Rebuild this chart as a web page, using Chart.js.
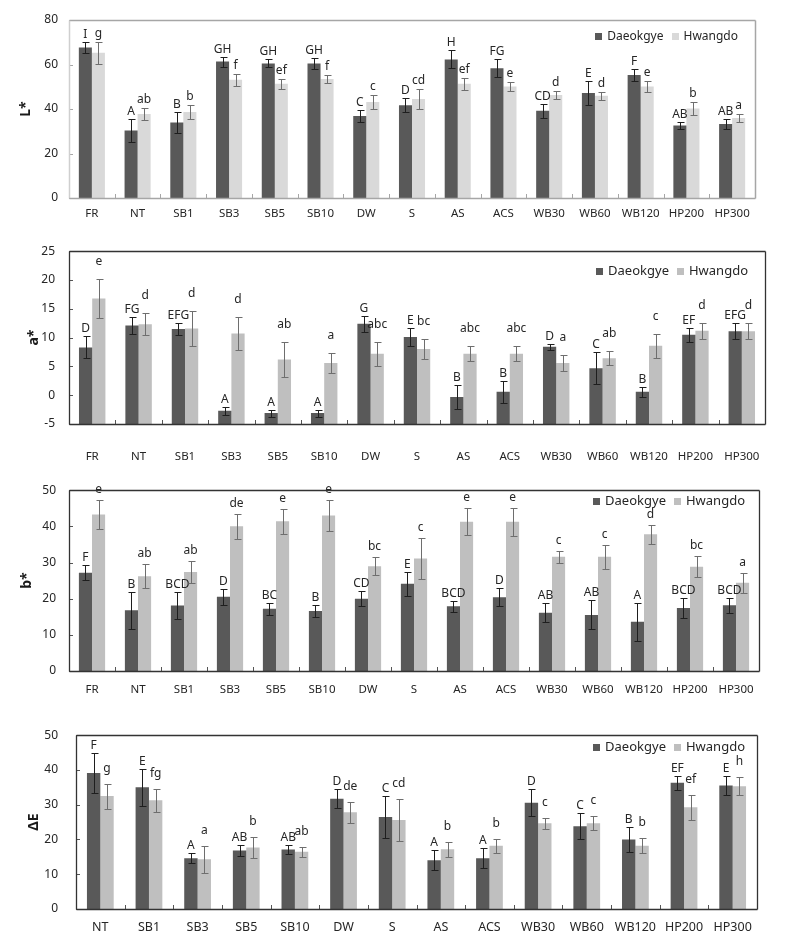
<!DOCTYPE html>
<html><head><meta charset="utf-8">
<script src="https://cdn.jsdelivr.net/npm/chart.js@4.4.1/dist/chart.umd.min.js"></script>
<style>
html,body{margin:0;padding:0;background:#fff;width:789px;height:939px;overflow:hidden}
.p{position:absolute;left:0;width:789px}
canvas{display:block}
</style></head><body>
<div class="p" style="top:0;height:230px"><canvas id="c1" width="789" height="230"></canvas></div>
<div class="p" style="top:230px;height:240px"><canvas id="c2" width="789" height="240"></canvas></div>
<div class="p" style="top:470px;height:240px"><canvas id="c3" width="789" height="240"></canvas></div>
<div class="p" style="top:710px;height:229px"><canvas id="c4" width="789" height="229"></canvas></div>
<script>
// ---------- data ----------
const categories = ['FR','NT','SB1','SB3','SB5','SB10','DW','S','AS','ACS','WB30','WB60','WB120','HP200','HP300'];
const categoriesDeltaE = ['NT','SB1','SB3','SB5','SB10','DW','S','AS','ACS','WB30','WB60','WB120','HP200','HP300'];
const seriesNames = ['Daeokgye','Hwangdo'];

// L*
const lDaeokgye   = [67.6, 30.3, 33.9, 61.3, 60.5, 60.5, 36.9, 41.7, 62.3, 58.3, 39.2, 47.2, 55.3, 32.6, 33.3];
const lDaeokgyeSD = [2.5, 5.0, 4.7, 2.2, 1.8, 2.5, 2.6, 3.2, 4.0, 4.0, 3.2, 5.6, 2.8, 1.6, 2.4];
const lHwangdo    = [65.3, 37.8, 38.7, 53.1, 51.3, 53.5, 43.2, 44.5, 51.3, 50.1, 46.3, 45.9, 50.1, 40.2, 36.0];
const lHwangdoSD  = [5.0, 2.7, 3.0, 2.8, 2.4, 1.8, 3.3, 4.5, 2.8, 1.9, 2.0, 1.9, 2.5, 2.8, 1.7];
const lLettersD   = ['I','A','B','GH','GH','GH','C','D','H','FG','CD','E','F','AB','AB'];
const lLettersH   = ['g','ab','b','f','ef','f','c','cd','ef','e','d','d','e','b','a'];

// a*
const aDaeokgye   = [8.3, 12.1, 11.5, -2.7, -3.1, -3.1, 12.4, 10.1, -0.3, 0.6, 8.4, 4.7, 0.6, 10.5, 11.1];
const aDaeokgyeSD = [1.9, 1.5, 1.1, 0.7, 0.6, 0.6, 1.4, 1.5, 2.1, 1.9, 0.5, 2.8, 0.9, 1.2, 1.4];
const aHwangdo    = [16.8, 12.3, 11.6, 10.7, 6.2, 5.6, 7.2, 8.0, 7.2, 7.2, 5.6, 6.4, 8.6, 11.2, 11.1];
const aHwangdoSD  = [3.4, 1.9, 3.0, 2.8, 3.1, 1.7, 2.1, 1.8, 1.3, 1.3, 1.4, 1.2, 2.1, 1.4, 1.4];
const aLettersD   = ['D','FG','EFG','A','A','A','G','E','B','B','D','C','B','EF','EFG'];
const aLettersH   = ['e','d','d','d','ab','a','abc','bc','abc','abc','a','ab','c','d','d'];

// b*
const bDaeokgye   = [27.2, 16.8, 18.1, 20.5, 17.2, 16.6, 20.0, 24.1, 17.9, 20.4, 16.1, 15.5, 13.6, 17.4, 18.2];
const bDaeokgyeSD = [2.0, 5.1, 3.7, 2.3, 1.6, 1.7, 2.0, 3.4, 1.5, 2.5, 2.6, 4.0, 5.2, 2.7, 2.1];
const bHwangdo    = [43.3, 26.2, 27.4, 40.0, 41.4, 43.0, 29.0, 31.1, 41.3, 41.3, 31.6, 31.6, 37.8, 28.8, 24.4];
const bHwangdoSD  = [3.9, 3.3, 3.1, 3.5, 3.5, 4.4, 2.4, 5.6, 3.8, 3.9, 1.6, 3.3, 2.6, 2.9, 2.7];
const bLettersD   = ['F','B','BCD','D','BC','B','CD','E','BCD','D','AB','AB','A','BCD','BCD'];
const bLettersH   = ['e','ab','ab','de','e','e','bc','c','e','e','c','c','d','bc','a'];

// ΔE
const eDaeokgye   = [39.1, 35.0, 14.6, 16.8, 17.1, 31.7, 26.5, 14.0, 14.6, 30.6, 23.8, 20.0, 36.3, 35.5];
const eDaeokgyeSD = [5.7, 5.4, 1.5, 1.6, 1.3, 2.7, 6.0, 2.9, 2.9, 3.9, 3.7, 3.6, 2.1, 2.7];
const eHwangdo    = [32.5, 31.3, 14.3, 17.7, 16.5, 27.8, 25.6, 17.2, 18.2, 24.7, 24.7, 18.2, 29.3, 35.3];
const eHwangdoSD  = [3.6, 3.3, 3.8, 3.0, 1.4, 3.0, 6.0, 2.2, 2.0, 1.6, 2.0, 2.1, 3.6, 2.6];
const eLettersD   = ['F','E','A','AB','AB','D','C','A','A','D','C','B','EF','E'];
const eLettersH   = ['g','fg','a','b','ab','de','cd','b','b','c','c','b','ef','h'];

// ---------- rendering ----------
const FONT = "'Noto Sans', 'DejaVu Sans', sans-serif";
Chart.defaults.font.family = FONT;
Chart.defaults.color = '#262626';
Chart.defaults.animation = false;

const decor = {
  id: 'decor',
  afterDatasetsDraw(chart, args, o) {
    const {ctx, chartArea: ca, scales: {x, y}} = chart;
    ctx.save();
    // error bars + letters
    chart.data.datasets.forEach((ds, di) => {
      const meta = chart.getDatasetMeta(di);
      meta.data.forEach((bar, i) => {
        const v = ds.data[i], e = ds.sd[i];
        const yt = Math.round(y.getPixelForValue(v + e)) + 0.5;
        const yb = Math.round(y.getPixelForValue(v - e)) + 0.5;
        const bx = Math.round(bar.x) + 0.5;
        ctx.strokeStyle = ds.errColor; ctx.lineWidth = 1;
        ctx.beginPath();
        ctx.moveTo(bx, yt); ctx.lineTo(bx, yb);
        ctx.moveTo(bx - 3, yt); ctx.lineTo(bx + 4, yt);
        ctx.moveTo(bx - 3, yb); ctx.lineTo(bx + 4, yb);
        ctx.stroke();
        ctx.fillStyle = '#262626';
        ctx.font = '12px ' + FONT;
        ctx.textAlign = 'center'; ctx.textBaseline = 'middle';
        ctx.fillText(ds.letters[i], bar.x, yt - ds.letterGap);
      });
    });
    // inward tick marks
    ctx.strokeStyle = o.tickColor; ctx.lineWidth = 1;
    ctx.beginPath();
    y.ticks.forEach(t => {
      const yy = Math.round(y.getPixelForValue(t.value)) + 0.5;
      ctx.moveTo(ca.left, yy); ctx.lineTo(ca.left + 4, yy);
    });
    const n = chart.data.labels.length;
    for (let i = 1; i < n; i++) {
      const xb = Math.round((x.getPixelForTick(i - 1) + x.getPixelForTick(i)) / 2) + 0.5;
      ctx.moveTo(xb, ca.bottom); ctx.lineTo(xb, ca.bottom - 4);
    }
    ctx.stroke();
    // frame
    const L = Math.round(ca.left) + 0.5, R = Math.round(ca.right) + 0.5;
    const T = Math.round(ca.top) + 0.5, B = Math.round(ca.bottom) + 0.5;
    ctx.lineWidth = o.frameWidth;
    const side = (c, x1, y1, x2, y2) => { ctx.strokeStyle = c; ctx.beginPath(); ctx.moveTo(x1, y1); ctx.lineTo(x2, y2); ctx.stroke(); };
    side(o.frameTop, L, T, R, T);
    side(o.frameTop, R, T, R, B);
    side(o.frameLeft, L, T, L, B);
    side(o.frameBottom, L, B, R, B);
    ctx.restore();
  },
  afterDraw(chart, args, o) {
    const {ctx, chartArea: ca} = chart;
    ctx.save();
    ctx.font = o.legendSize + 'px ' + FONT;
    const items = chart.data.datasets.map(d => ({label: d.label, color: d.backgroundColor, w: ctx.measureText(d.label).width}));
    const box = 7, gapT = 5, gapI = 8;
    let total = 0;
    items.forEach((it, k) => { total += box + gapT + it.w + (k ? gapI : 0); });
    let xx = ca.right - o.legendRight - total;
    const yc = ca.top + o.legendTop;
    ctx.textBaseline = 'middle'; ctx.textAlign = 'left';
    items.forEach((it, k) => {
      if (k) xx += gapI;
      ctx.fillStyle = it.color;
      ctx.fillRect(Math.round(xx), Math.round(yc - box / 2), box, box);
      xx += box + gapT;
      ctx.fillStyle = '#262626';
      ctx.fillText(it.label, xx, yc + 0.5);
      xx += it.w;
    });
    ctx.restore();
  }
};

function makeChart(id, cfg) {
  return new Chart(document.getElementById(id), {
    type: 'bar',
    data: {
      labels: cfg.labels,
      datasets: [
        {label: seriesNames[0], data: cfg.d, sd: cfg.dsd, letters: cfg.dl, letterGap: 8, base: cfg.min,
         backgroundColor: '#595959', errColor: '#1e1e1e', barPercentage: 1, categoryPercentage: cfg.cat},
        {label: seriesNames[1], data: cfg.h, sd: cfg.hsd, letters: cfg.hl, letterGap: cfg.hGap, base: cfg.min,
         backgroundColor: cfg.hColor, errColor: cfg.hErr, barPercentage: 1, categoryPercentage: cfg.cat}
      ]
    },
    options: {
      responsive: false,
      maintainAspectRatio: false,
      layout: {padding: {top: cfg.padTop, right: cfg.padRight, left: 0, bottom: 0}},
      plugins: {
        legend: {display: false},
        tooltip: {enabled: false},
        decor: cfg.decor
      },
      scales: {
        x: {
          grid: {display: false, drawTicks: false},
          border: {display: false},
          ticks: {font: {size: cfg.xFont}, padding: cfg.xPad, color: '#262626', maxRotation: 0, autoSkip: false},
          afterFit: s => { s.height = cfg.xHeight; }
        },
        y: {
          min: cfg.min, max: cfg.max,
          grid: {display: false, drawTicks: false},
          border: {display: false},
          ticks: {stepSize: cfg.step, font: {size: 12}, padding: cfg.yPad, color: '#262626'},
          title: {display: true, text: cfg.title, font: {size: 14, weight: 'bold'}, color: '#1a1a1a', padding: {top: cfg.titlePad, bottom: 0}},
          afterFit: s => { s.width = cfg.yWidth; }
        }
      }
    },
    plugins: [decor]
  });
}

const darkFrame = {frameTop: '#333333', frameLeft: '#333333', frameBottom: '#333333', frameWidth: 1.3, tickColor: '#555555'};

makeChart('c1', {
  labels: categories, d: lDaeokgye, dsd: lDaeokgyeSD, dl: lLettersD, h: lHwangdo, hsd: lHwangdoSD, hl: lLettersH,
  hColor: '#d9d9d9', hErr: '#6e6e6e', hGap: 9, cat: 0.57,
  padTop: 20, padRight: 34, xHeight: 32, xPad: 9, xFont: 11.5, yWidth: 69, yPad: 11,
  min: 0, max: 80, step: 20, title: 'L*', titlePad: 18,
  decor: {frameTop: '#a6a6a6', frameLeft: '#cfcfcf', frameBottom: '#a6a6a6', frameWidth: 1.5, tickColor: '#a6a6a6',
          legendSize: 12, legendRight: 17, legendTop: 16}
});
makeChart('c2', {
  labels: categories, d: aDaeokgye, dsd: aDaeokgyeSD, dl: aLettersD, h: aHwangdo, hsd: aHwangdoSD, hl: aLettersH,
  hColor: '#bfbfbf', hErr: '#6e6e6e', hGap: 18, cat: 0.57,
  padTop: 21, padRight: 24, xHeight: 46, xPad: 26, xFont: 11.5, yWidth: 69, yPad: 14,
  min: -5, max: 25, step: 5, title: 'a*', titlePad: 26,
  decor: Object.assign({legendSize: 13, legendRight: 17, legendTop: 20}, darkFrame)
});
makeChart('c3', {
  labels: categories, d: bDaeokgye, dsd: bDaeokgyeSD, dl: bLettersD, h: bHwangdo, hsd: bHwangdoSD, hl: bLettersH,
  hColor: '#bfbfbf', hErr: '#6e6e6e', hGap: 11, cat: 0.57,
  padTop: 13, padRight: 30, xHeight: 39, xPad: 12, xFont: 11.5, yWidth: 69, yPad: 13,
  min: 0, max: 50, step: 10, title: 'b*', titlePad: 19,
  decor: Object.assign({legendSize: 13, legendRight: 14, legendTop: 11}, darkFrame)
});
makeChart('c4', {
  labels: categoriesDeltaE, d: eDaeokgye, dsd: eDaeokgyeSD, dl: eLettersD, h: eHwangdo, hsd: eHwangdoSD, hl: eLettersH,
  hColor: '#bfbfbf', hErr: '#6e6e6e', hGap: 16, cat: 0.55,
  padTop: 12, padRight: 32, xHeight: 30, xPad: 11, xFont: 12.5, yWidth: 76, yPad: 18,
  min: 0, max: 50, step: 10, title: 'ΔE', titlePad: 26,
  decor: Object.assign({legendSize: 13, legendRight: 12, legendTop: 12}, darkFrame)
});
</script>
</body></html>
